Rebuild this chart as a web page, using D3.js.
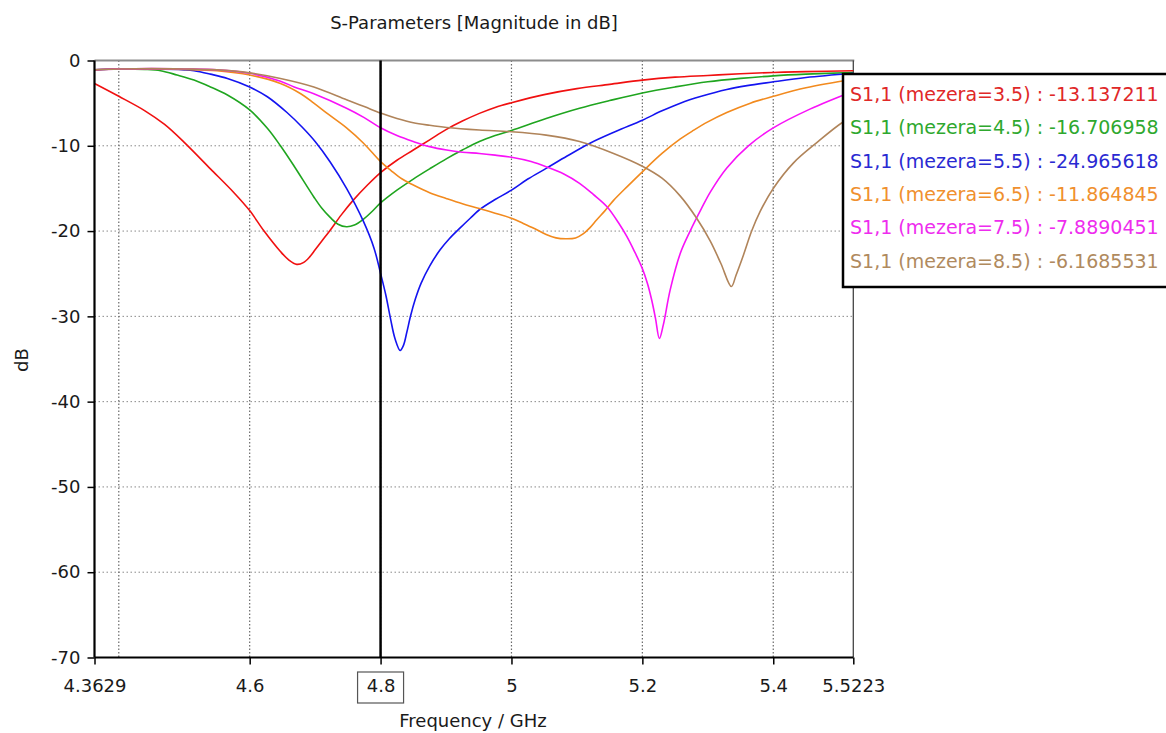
<!DOCTYPE html>
<html>
<head>
<meta charset="utf-8">
<script src="https://cdn.jsdelivr.net/npm/d3@7"></script>
<style>
  html, body { margin: 0; padding: 0; background: #ffffff; }
  svg { display: block; font-family: "DejaVu Sans", Verdana, sans-serif; }
</style>
</head>
<body>
<svg id="chart" width="1166" height="733"></svg>
<script>
// ---------------- data ----------------
const xTickLabels = [4.3629, 4.6, 4.8, 5, 5.2, 5.4, 5.5223];
const xGrid = [4.4, 4.6, 4.8, 5, 5.2, 5.4];
const yTicks = [0, -10, -20, -30, -40, -50, -60, -70];
const markerFreq = 4.8;

const seriesNames = ["S1,1 (mezera=3.5)", "S1,1 (mezera=4.5)", "S1,1 (mezera=5.5)",
                     "S1,1 (mezera=6.5)", "S1,1 (mezera=7.5)", "S1,1 (mezera=8.5)"];
const markerValues = ["-13.137211", "-16.706958", "-24.965618", "-11.864845", "-7.8890451", "-6.1685531"];

const f35  = [4.3629,4.40,4.44,4.47,4.50,4.54,4.576,4.60,4.622,4.647,4.66,4.672,4.682,4.692,4.70,4.71,4.723,4.74,4.758,4.78,4.80,4.825,4.85,4.875,4.90,4.925,4.951,4.975,5.0,5.05,5.10,5.15,5.2,5.25,5.3,5.35,5.4,5.45,5.5223];
const db35 = [-2.7,-4.2,-5.9,-7.5,-9.6,-12.7,-15.5,-17.6,-20.0,-22.4,-23.4,-23.9,-23.7,-23.0,-22.2,-21.2,-19.9,-18.1,-16.4,-14.6,-13.14,-11.7,-10.5,-9.3,-8.1,-7.1,-6.2,-5.5,-4.95,-4.0,-3.3,-2.8,-2.3,-1.95,-1.75,-1.55,-1.4,-1.3,-1.2];

const f45  = [4.3629,4.40,4.44,4.464,4.489,4.515,4.540,4.566,4.60,4.627,4.647,4.668,4.698,4.71,4.723,4.735,4.748,4.76,4.774,4.787,4.80,4.825,4.85,4.875,4.901,4.925,4.951,4.975,5.0,5.053,5.104,5.15,5.2,5.25,5.3,5.35,5.4,5.45,5.5223];
const db45 = [-1.1,-1.0,-1.05,-1.2,-1.7,-2.3,-3.1,-4.05,-5.8,-7.95,-10.0,-12.4,-16.0,-17.3,-18.4,-19.2,-19.5,-19.3,-18.6,-17.7,-16.7,-15.2,-13.9,-12.7,-11.5,-10.5,-9.5,-8.8,-8.2,-6.8,-5.6,-4.7,-3.8,-3.1,-2.5,-2.1,-1.8,-1.6,-1.4];

const f55  = [4.3629,4.40,4.45,4.50,4.515,4.540,4.566,4.60,4.627,4.657,4.68,4.70,4.723,4.748,4.774,4.79,4.80,4.808,4.815,4.822,4.830,4.835,4.840,4.846,4.853,4.862,4.875,4.891,4.905,4.922,4.937,4.951,4.975,5.0,5.025,5.053,5.085,5.12,5.16,5.2,5.23,5.258,5.29,5.329,5.36,5.40,5.45,5.5223];
const db55 = [-1.1,-1.0,-1.0,-1.1,-1.2,-1.6,-2.1,-3.1,-4.25,-6.1,-7.8,-9.5,-11.9,-15.0,-18.9,-22.0,-24.97,-27.5,-30.2,-32.6,-34.0,-33.4,-31.9,-29.9,-28.0,-26.1,-24.1,-22.2,-20.9,-19.6,-18.5,-17.5,-16.3,-15.2,-13.9,-12.65,-11.2,-9.7,-8.3,-7.0,-5.9,-5.0,-4.2,-3.4,-2.95,-2.5,-2.0,-1.5];

const f65  = [4.3629,4.40,4.45,4.50,4.55,4.60,4.647,4.678,4.698,4.72,4.748,4.774,4.80,4.816,4.833,4.85,4.875,4.901,4.925,4.951,4.975,5.0,5.018,5.035,5.053,5.068,5.084,5.098,5.110,5.120,5.130,5.143,5.156,5.178,5.2,5.23,5.258,5.278,5.30,5.329,5.365,5.40,5.45,5.5223];
const db65 = [-1.1,-1.0,-1.0,-1.05,-1.2,-1.7,-2.7,-3.9,-5.0,-6.3,-7.9,-9.7,-11.86,-12.9,-13.9,-14.6,-15.5,-16.2,-16.8,-17.35,-17.9,-18.5,-19.1,-19.7,-20.4,-20.8,-20.9,-20.8,-20.3,-19.6,-18.7,-17.6,-16.4,-14.7,-13.05,-10.9,-9.2,-8.2,-7.2,-6.1,-5.0,-4.2,-3.2,-2.2];

const f75  = [4.3629,4.40,4.45,4.50,4.55,4.60,4.646,4.668,4.698,4.748,4.775,4.80,4.825,4.85,4.875,4.901,4.925,4.951,4.975,5.0,5.03,5.053,5.08,5.104,5.125,5.146,5.165,5.176,5.188,5.20,5.208,5.214,5.22,5.226,5.232,5.2425,5.258,5.273,5.29,5.304,5.329,5.362,5.40,5.456,5.5223];
const db75 = [-1.1,-1.0,-0.95,-1.0,-1.1,-1.5,-2.4,-3.1,-3.9,-5.6,-6.7,-7.89,-8.8,-9.5,-10.1,-10.5,-10.75,-10.9,-11.1,-11.35,-11.85,-12.45,-13.3,-14.4,-15.7,-17.15,-19.2,-20.6,-22.4,-24.4,-26.2,-28.0,-30.2,-32.6,-31.0,-26.9,-22.6,-20.0,-17.4,-15.4,-12.6,-10.0,-7.9,-5.7,-3.6];

const f85  = [4.3629,4.40,4.45,4.50,4.55,4.60,4.647,4.698,4.748,4.775,4.80,4.825,4.85,4.875,4.901,4.951,5.0,5.053,5.104,5.156,5.2,5.23,5.258,5.283,5.304,5.32,5.336,5.343,5.3545,5.367,5.38,5.40,5.431,5.467,5.505,5.5223];
const db85 = [-1.1,-1.0,-0.95,-1.0,-1.1,-1.45,-2.1,-3.1,-4.6,-5.4,-6.17,-6.8,-7.3,-7.6,-7.85,-8.15,-8.35,-8.75,-9.5,-10.9,-12.4,-13.8,-15.9,-18.5,-21.2,-23.8,-26.5,-25.2,-22.8,-20.0,-17.7,-15.0,-12.0,-9.6,-7.3,-6.6];

const seriesF  = [f35, f45, f55, f65, f75, f85];
const seriesDb = [db35, db45, db55, db65, db75, db85];
const lineColors = ["#f01010", "#1fa51f", "#1414f0", "#f28a1e", "#f812f8", "#b0845a"];
const textColors = ["#e02828", "#2ea82e", "#2a2ad2", "#f0902e", "#ee2cee", "#b08a5e"];

// ---------------- drawing ----------------
const svg = d3.select("#chart");
const x = d3.scaleLinear().domain([4.3629, 5.5223]).range([94.5, 853.3]);
const y = d3.scaleLinear().domain([-70, 0]).range([657.5, 60.5]);
const font = "DejaVu Sans, Verdana, sans-serif";

// grid
svg.append("g").selectAll("line").data(yTicks.filter(d => d !== 0 && d !== -70)).join("line")
  .attr("x1", x.range()[0]).attr("x2", x.range()[1])
  .attr("y1", d => y(d)).attr("y2", d => y(d))
  .attr("stroke", "#8a8a8a").attr("stroke-width", 1).attr("stroke-dasharray", "1.5,2.5");
svg.append("g").selectAll("line").data(xGrid).join("line")
  .attr("x1", d => x(d)).attr("x2", d => x(d))
  .attr("y1", y(0)).attr("y2", y(-70))
  .attr("stroke", "#6a6a6a").attr("stroke-width", 1.2).attr("stroke-dasharray", "1.5,2");

// frame top and right
svg.append("line").attr("x1", x.range()[0]).attr("x2", x.range()[1] + 1)
  .attr("y1", y(0)).attr("y2", y(0)).attr("stroke", "#8c8c8c").attr("stroke-width", 2);
svg.append("line").attr("x1", x.range()[1]).attr("x2", x.range()[1])
  .attr("y1", y(0)).attr("y2", y(-70)).attr("stroke", "#444").attr("stroke-width", 1.3);

// curves
const line = d3.line().x(d => x(d[0])).y(d => y(d[1])).curve(d3.curveCatmullRom.alpha(0.5));
seriesF.forEach((fs, i) => {
  const pts = fs.map((f, k) => [f, seriesDb[i][k]]);
  svg.append("path").datum(pts).attr("d", line)
    .attr("fill", "none").attr("stroke", lineColors[i]).attr("stroke-width", 1.6)
    .attr("stroke-linejoin", "round");
});

// marker line
svg.append("line").attr("x1", x(markerFreq)).attr("x2", x(markerFreq))
  .attr("y1", y(0)).attr("y2", y(-70)).attr("stroke", "#000").attr("stroke-width", 2.5);

// axes
const yAxis = d3.axisLeft(y).tickValues(yTicks).tickSize(7).tickPadding(7).tickFormat(d => String(d));
const gy = svg.append("g").attr("transform", `translate(${x.range()[0]},0)`).call(yAxis);
const xAxis = d3.axisBottom(x).tickValues(xTickLabels).tickSize(7).tickPadding(15).tickFormat(d => String(d));
const gx = svg.append("g").attr("transform", `translate(0,${y(-70)})`).call(xAxis);
[gx, gy].forEach(g => {
  g.select(".domain").attr("stroke", "#000").attr("stroke-width", 2.2);
  g.selectAll(".tick line").attr("stroke", "#000").attr("stroke-width", 1.5);
  g.selectAll(".tick text").attr("font-family", font).attr("font-size", 18).attr("fill", "#1a1a1a");
});
gy.select(".domain").attr("d", `M0,${y(0)}V${y(-70)}`);
gx.select(".domain").attr("d", `M${x.range()[0]},0H${x.range()[1]}`);

// marker label box
const mx = x(markerFreq);
svg.append("rect").attr("x", mx - 23).attr("y", 672).attr("width", 46).attr("height", 31)
  .attr("fill", "none").attr("stroke", "#555").attr("stroke-width", 1.2);

// titles
svg.append("text").attr("x", 474).attr("y", 29).attr("text-anchor", "middle")
  .attr("font-family", font).attr("font-size", 18).attr("fill", "#1a1a1a")
  .text("S-Parameters [Magnitude in dB]");
svg.append("text").attr("x", 473).attr("y", 727).attr("text-anchor", "middle")
  .attr("font-family", font).attr("font-size", 18).attr("fill", "#1a1a1a")
  .text("Frequency / GHz");
svg.append("text").attr("transform", "translate(28,360) rotate(-90)").attr("text-anchor", "middle")
  .attr("font-family", font).attr("font-size", 18).attr("fill", "#1a1a1a")
  .text("dB");

// legend
const lg = svg.append("g");
lg.append("rect").attr("x", 843).attr("y", 74).attr("width", 340).attr("height", 213)
  .attr("fill", "#fff").attr("stroke", "#000").attr("stroke-width", 2.5);
lg.selectAll("text").data(seriesNames).join("text")
  .attr("x", 850).attr("y", (d, i) => 101 + i * 33.3)
  .attr("font-family", font).attr("font-size", 19)
  .attr("fill", (d, i) => textColors[i])
  .text((d, i) => `${d} : ${markerValues[i]}`);
</script>
</body>
</html>
